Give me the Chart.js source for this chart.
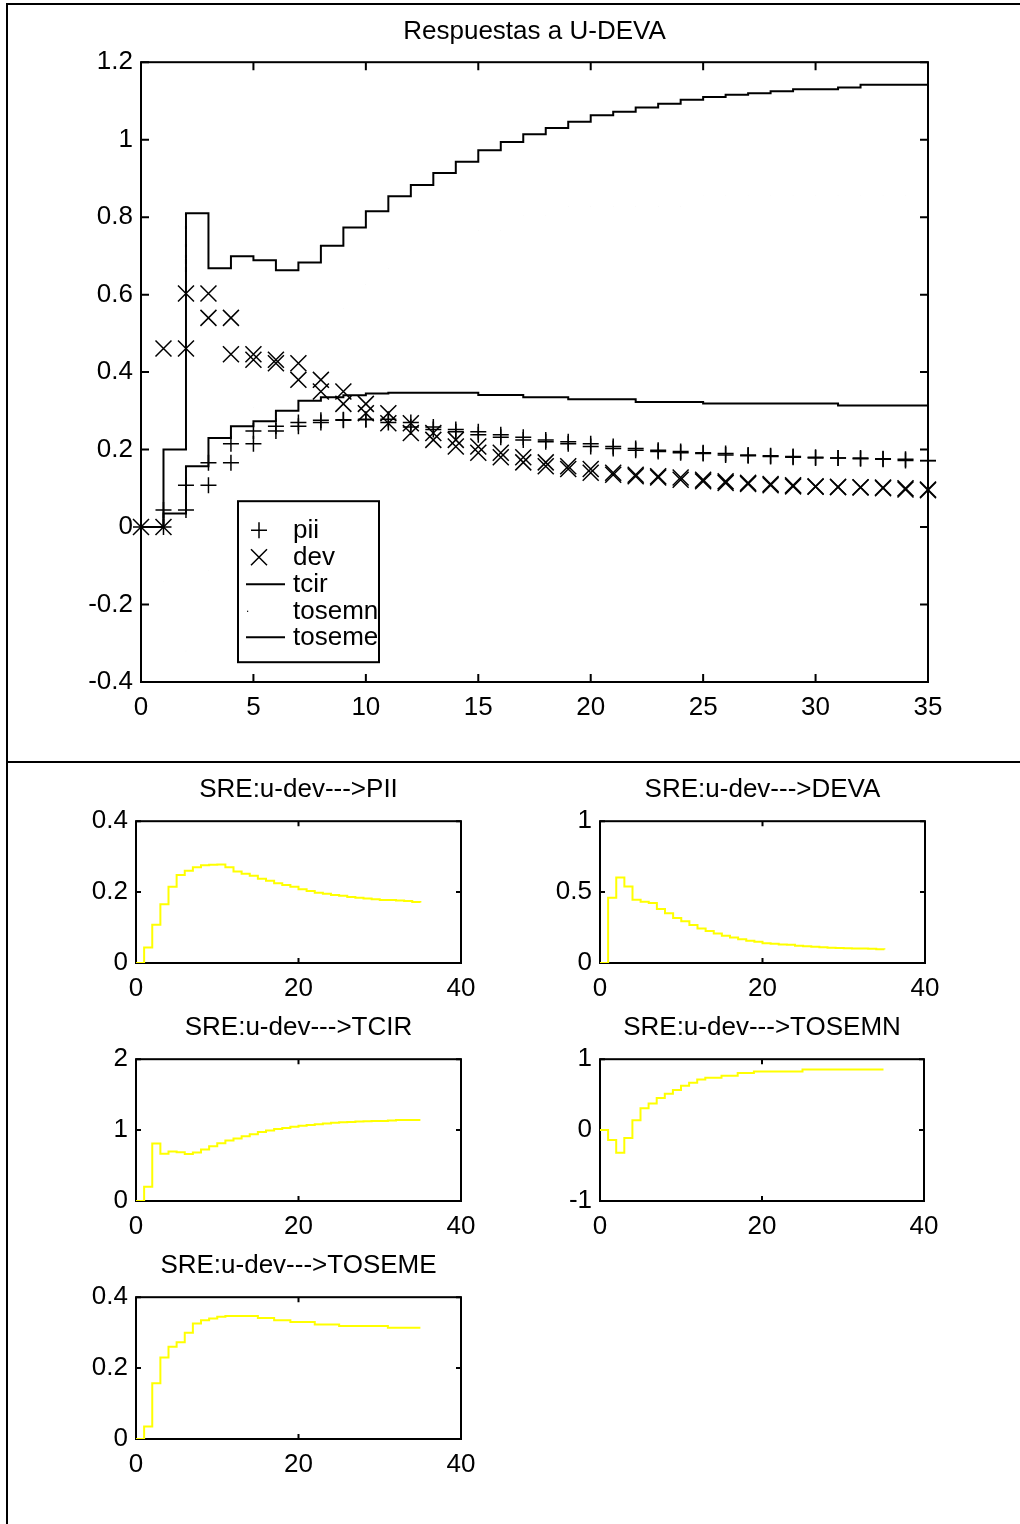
<!DOCTYPE html>
<html>
<head>
<meta charset="utf-8">
<script src="https://cdn.jsdelivr.net/npm/chart.js@4/dist/chart.umd.min.js"></script>
<style>
html,body{margin:0;padding:0;background:#fff;width:1020px;height:1524px;overflow:hidden;position:relative}
canvas{position:absolute}
.fr{position:absolute;background:#000}
</style>
</head>
<body>
<div class="fr" style="left:6px;top:3px;width:1014px;height:2px"></div>
<div class="fr" style="left:6px;top:3px;width:2px;height:1521px"></div>
<div class="fr" style="left:6px;top:761px;width:1014px;height:2px"></div>

<canvas id="main" width="1020" height="760" style="left:0;top:0"></canvas>
<canvas id="s1" width="510" height="262" style="left:0;top:762px"></canvas>
<canvas id="s2" width="510" height="262" style="left:510px;top:762px"></canvas>
<canvas id="s3" width="510" height="262" style="left:0;top:1000px"></canvas>
<canvas id="s4" width="510" height="262" style="left:510px;top:1000px"></canvas>
<canvas id="s5" width="510" height="262" style="left:0;top:1238px"></canvas>

<script>
// ---------------- DATA ----------------
const steps = [0,1,2,3,4,5,6,7,8,9,10,11,12,13,14,15,16,17,18,19,20,21,22,23,24,25,26,27,28,29,30,31,32,33,34,35];
const pii = [0,0.044,0.108,0.166,0.215,0.248,0.26,0.27,0.276,0.277,0.278,0.27,0.258,0.252,0.246,0.238,0.232,0.225,0.22,0.215,0.208,0.203,0.198,0.195,0.192,0.19,0.186,0.184,0.182,0.18,0.178,0.178,0.176,0.175,0.172,0.171];
const dev = [0,0.461,0.603,0.54,0.446,0.432,0.423,0.38,0.35,0.318,0.294,0.268,0.243,0.225,0.208,0.192,0.18,0.167,0.157,0.15,0.14,0.135,0.131,0.128,0.122,0.118,0.114,0.111,0.108,0.105,0.104,0.103,0.102,0.1,0.097,0.095];
const tcir = [0,0.2,0.81,0.668,0.699,0.689,0.663,0.683,0.726,0.773,0.815,0.854,0.883,0.914,0.943,0.973,0.994,1.014,1.03,1.046,1.063,1.072,1.083,1.093,1.103,1.11,1.116,1.12,1.125,1.13,1.13,1.135,1.142,1.142,1.142,1.142];
const tosemn = [0,-0.14,-0.32,-0.112,0.14,0.308,0.374,0.453,0.514,0.565,0.626,0.668,0.715,0.738,0.738,0.766,0.766,0.804,0.804,0.827,0.827,0.827,0.827,0.827,0.827,0.855,0.855,0.855,0.855,0.855,0.855,0.855,0.855,0.855,0.855,0.855];
const toseme = [0,0.035,0.157,0.23,0.26,0.273,0.3,0.326,0.335,0.34,0.345,0.347,0.347,0.347,0.347,0.341,0.341,0.335,0.335,0.33,0.33,0.33,0.323,0.323,0.323,0.319,0.319,0.319,0.319,0.319,0.319,0.314,0.314,0.314,0.314,0.314];

const seriesNames = ['pii','dev','tcir','tosemn','toseme'];
const mainTitle = 'Respuestas a U-DEVA';
const mainXTicks = [0,5,10,15,20,25,30,35];
const mainXLabels = ['0','5','10','15','20','25','30','35'];
const mainYTicks = [-0.4,-0.2,0,0.2,0.4,0.6,0.8,1,1.2];
const mainYLabels = ['-0.4','-0.2','0','0.2','0.4','0.6','0.8','1','1.2'];

const subTitles = ['SRE:u-dev--->PII','SRE:u-dev--->DEVA','SRE:u-dev--->TCIR','SRE:u-dev--->TOSEMN','SRE:u-dev--->TOSEME'];
const subXTicks = [0,20,40];
const subXLabels = ['0','20','40'];
const piiYTicks = [0,0.2,0.4];   const piiYLabels = ['0','0.2','0.4'];
const devYTicks = [0,0.5,1];     const devYLabels = ['0','0.5','1'];
const tcirYTicks = [0,1,2];      const tcirYLabels = ['0','1','2'];
const tosemnYTicks = [-1,0,1];   const tosemnYLabels = ['-1','0','1'];
const tosemeYTicks = [0,0.2,0.4];const tosemeYLabels = ['0','0.2','0.4'];

// ---------------- HELPERS ----------------
const FONT = "'Liberation Sans', Arial, Helvetica, sans-serif";
Chart.defaults.font.family = FONT;
Chart.defaults.font.size = 26;
Chart.defaults.color = '#000';

function toXY(vals){ return vals.map((v,i)=>({x:steps[i], y:v})); }
// corner points of a staircase (as drawn by a stairs plot with markers)
function stairCorners(vals){
  const out = [];
  vals.forEach((v,i)=>{
    out.push({x:steps[i], y:v});
    if (i+1 < vals.length) out.push({x:steps[i+1], y:v});
  });
  return out;
}

const framePlugin = {
  id: 'mframe',
  beforeDatasetsDraw(chart, args, opts){
    const {ctx, chartArea:a, scales} = chart;
    const L = opts.tick || 8;
    ctx.save();
    ctx.strokeStyle = '#000';
    ctx.lineWidth = 2;
    ctx.strokeRect(a.left, a.top, a.right-a.left, a.bottom-a.top);
    ctx.beginPath();
    scales.x.ticks.forEach(t=>{
      const p = scales.x.getPixelForValue(t.value);
      ctx.moveTo(p, a.bottom); ctx.lineTo(p, a.bottom - L);
      ctx.moveTo(p, a.top); ctx.lineTo(p, a.top + L);
    });
    scales.y.ticks.forEach(t=>{
      const p = scales.y.getPixelForValue(t.value);
      ctx.moveTo(a.left, p); ctx.lineTo(a.left + L, p);
      ctx.moveTo(a.right, p); ctx.lineTo(a.right - L, p);
    });
    ctx.stroke();
    ctx.restore();
  }
};

const boxLegend = {
  id: 'boxLegend',
  afterDraw(chart, args, opts){
    if (!opts || !opts.show) return;
    const {ctx, chartArea:a} = chart;
    const bx = a.left + 97, by = a.top + 439, bw = 141, bh = 161;
    ctx.save();
    ctx.fillStyle = '#fff';
    ctx.fillRect(bx, by, bw, bh);
    ctx.beginPath(); ctx.rect(bx, by, bw, bh); ctx.clip();
    const rows = [29, 56, 83, 109.5, 136];
    ctx.strokeStyle = '#000';
    ctx.fillStyle = '#000';
    ctx.font = "26px " + FONT;
    ctx.textBaseline = 'middle';
    ctx.textAlign = 'left';
    seriesNames.forEach((name, i)=>{
      const y = by + rows[i];
      const mx = bx + 21;
      ctx.lineWidth = 1.5;
      ctx.beginPath();
      if (name === 'pii') {
        ctx.moveTo(mx-8, y); ctx.lineTo(mx+8, y);
        ctx.moveTo(mx, y-8); ctx.lineTo(mx, y+8);
        ctx.stroke();
      } else if (name === 'dev') {
        ctx.moveTo(mx-8, y-8); ctx.lineTo(mx+8, y+8);
        ctx.moveTo(mx-8, y+8); ctx.lineTo(mx+8, y-8);
        ctx.stroke();
      } else if (name === 'tosemn') {
        ctx.fillRect(bx+9, y, 1.2, 1.2);
      } else {
        ctx.lineWidth = 2;
        ctx.moveTo(bx+8, y); ctx.lineTo(bx+47, y);
        ctx.stroke();
      }
      ctx.fillText(name, bx + 55, y + 1);
    });
    ctx.restore();
    ctx.save();
    ctx.strokeStyle = '#000';
    ctx.lineWidth = 2;
    ctx.strokeRect(bx, by, bw, bh);
    ctx.restore();
  }
};
Chart.register(framePlugin, boxLegend);

function axisX(min, max, ticks, labels, height){
  return {
    type:'linear', min:min, max:max,
    grid:{display:false, drawTicks:false},
    border:{display:false},
    ticks:{padding:10, autoSkip:false, maxRotation:0, color:'#000', callback:(v,i)=>labels[i]},
    afterBuildTicks:s=>{ s.ticks = ticks.map(v=>({value:v})); },
    afterFit:s=>{ s.height = height; }
  };
}
function axisY(min, max, ticks, labels, width){
  return {
    type:'linear', min:min, max:max,
    grid:{display:false, drawTicks:false},
    border:{display:false},
    ticks:{padding:8, autoSkip:false, color:'#000', callback:(v,i)=>labels[i]},
    afterBuildTicks:s=>{ s.ticks = ticks.map(v=>({value:v})); },
    afterFit:s=>{ s.width = width; }
  };
}

// ---------------- MAIN CHART ----------------
new Chart(document.getElementById('main'), {
  type:'line',
  data:{
    datasets:[
      {label:seriesNames[2], data:toXY(tcir), stepped:'before', borderColor:'#000', borderWidth:2, pointRadius:0, fill:false},
      {label:seriesNames[4], data:toXY(toseme), stepped:'before', borderColor:'#000', borderWidth:2, pointRadius:0, fill:false},
      {label:seriesNames[3], data:toXY(tosemn), showLine:false, pointStyle:'circle', pointRadius:0.2, pointBorderWidth:0, pointBackgroundColor:'rgba(0,0,0,0.15)', clip:false},
      {label:seriesNames[0], data:stairCorners(pii), showLine:false, pointStyle:'cross', pointRadius:8, pointBorderWidth:1.5, pointBorderColor:'#000', clip:false},
      {label:seriesNames[1], data:stairCorners(dev), showLine:false, pointStyle:'crossRot', pointRadius:11.3, pointBorderWidth:1.5, pointBorderColor:'#000', clip:false}
    ]
  },
  options:{
    responsive:false, animation:false, events:[],
    layout:{autoPadding:false, padding:{top:16, left:0, right:92, bottom:18}},
    plugins:{
      legend:{display:false},
      tooltip:{enabled:false},
      title:{display:true, text:mainTitle, fullSize:false, color:'#000', font:{size:26, weight:'normal'}, padding:{top:0, bottom:15}},
      mframe:{tick:8},
      boxLegend:{show:true}
    },
    scales:{
      x: axisX(0, 35, mainXTicks, mainXLabels, 60),
      y: axisY(-0.4, 1.2, mainYTicks, mainYLabels, 141)
    }
  }
});

// ---------------- SUBPLOTS ----------------
const subDefs = [
  {id:'s1', title:subTitles[0], vals:pii,    ymin:0,  ymax:0.4, yt:piiYTicks,    yl:piiYLabels,    yw:136, pr:49},
  {id:'s2', title:subTitles[1], vals:dev,    ymin:0,  ymax:1,   yt:devYTicks,    yl:devYLabels,    yw:90,  pr:95},
  {id:'s3', title:subTitles[2], vals:tcir,   ymin:0,  ymax:2,   yt:tcirYTicks,   yl:tcirYLabels,   yw:136, pr:49},
  {id:'s4', title:subTitles[3], vals:tosemn, ymin:-1, ymax:1,   yt:tosemnYTicks, yl:tosemnYLabels, yw:90,  pr:96},
  {id:'s5', title:subTitles[4], vals:toseme, ymin:0,  ymax:0.4, yt:tosemeYTicks, yl:tosemeYLabels, yw:136, pr:49}
];
subDefs.forEach(d=>{
  new Chart(document.getElementById(d.id), {
    type:'line',
    data:{datasets:[{label:d.title, data:toXY(d.vals), stepped:'before', borderColor:'#ffff00', borderWidth:2, pointRadius:0, fill:false}]},
    options:{
      responsive:false, animation:false, events:[],
      layout:{autoPadding:false, padding:{top:12, left:0, right:d.pr, bottom:6}},
      plugins:{
        legend:{display:false},
        tooltip:{enabled:false},
        title:{display:true, text:d.title, fullSize:false, color:'#000', font:{size:26, weight:'normal'}, padding:{top:0, bottom:16}},
        mframe:{tick:5},
        boxLegend:{show:false}
      },
      scales:{
        x: axisX(0, 40, subXTicks, subXLabels, 55),
        y: axisY(d.ymin, d.ymax, d.yt, d.yl, d.yw)
      }
    }
  });
});
</script>
</body>
</html>
